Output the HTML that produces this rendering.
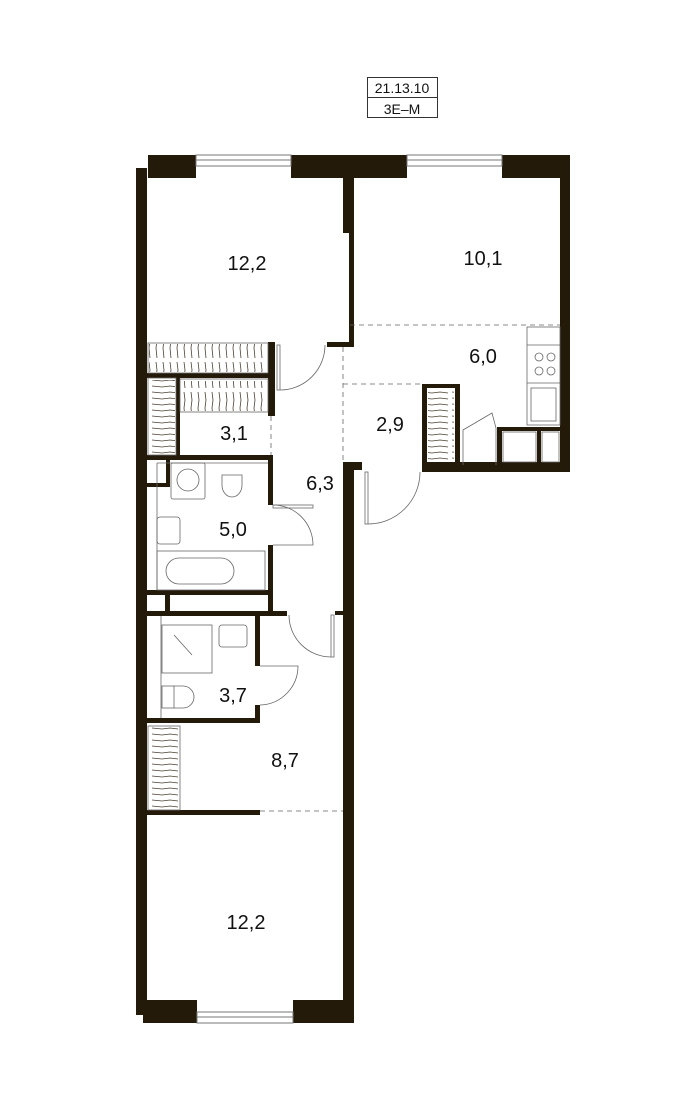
<!DOCTYPE html>
<html><head><meta charset="utf-8"><style>
html,body{margin:0;padding:0;background:#fff;width:700px;height:1100px;overflow:hidden}
svg{display:block}
text{font-family:"Liberation Sans",sans-serif;fill:#111}
</style></head><body>
<svg width="700" height="1100" viewBox="0 0 700 1100">
<defs>
<pattern id="hv" width="7" height="30" patternUnits="userSpaceOnUse"><path d="M2 2 L3 10 L2 18 L3 28" stroke="#4a4030" stroke-width="0.8" fill="none"/></pattern>
<pattern id="hh" width="30" height="6" patternUnits="userSpaceOnUse"><path d="M2 2 L12 3 L20 2 L28 3" stroke="#4a4030" stroke-width="0.8" fill="none"/></pattern>
</defs>
<rect x="367.5" y="77.5" width="70" height="40" fill="none" stroke="#333" stroke-width="1"/>
<line x1="367" y1="97.5" x2="437" y2="97.5" stroke="#333"/>
<text x="402" y="93" font-size="14" text-anchor="middle" font-family="Liberation Sans Narrow, Liberation Sans, sans-serif">21.13.10</text>
<text x="402" y="114" font-size="14" text-anchor="middle" font-family="Liberation Sans Narrow, Liberation Sans, sans-serif">3E–M</text>
<g fill="#231a0a">
<rect x="148" y="155" width="48" height="23"/>
<rect x="291" y="155" width="116" height="23"/>
<rect x="502" y="155" width="68" height="23"/>
<rect x="136" y="168" width="11" height="847"/>
<rect x="560" y="168" width="10" height="304"/>
<rect x="343" y="168" width="11" height="65"/>
<rect x="349" y="230" width="5" height="117"/>
<rect x="327" y="342" width="27" height="5"/>
<rect x="268" y="342" width="7" height="74"/>
<rect x="147" y="373" width="125" height="5"/>
<rect x="176" y="378" width="4" height="80"/>
<rect x="147" y="455" width="126" height="5"/>
<rect x="268" y="455" width="5" height="50"/>
<rect x="268" y="545" width="5" height="68"/>
<rect x="147" y="483" width="23" height="4"/>
<rect x="166" y="460" width="4" height="27"/>
<rect x="147" y="590" width="126" height="5"/>
<rect x="165" y="595" width="5" height="18"/>
<rect x="147" y="611" width="140" height="5"/>
<rect x="255" y="611" width="5" height="55"/>
<rect x="255" y="705" width="5" height="18"/>
<rect x="147" y="718" width="113" height="5"/>
<rect x="335" y="611" width="10" height="4"/>
<rect x="343" y="462" width="11" height="560"/>
<rect x="343" y="462" width="19" height="8"/>
<rect x="422" y="384" width="38" height="4"/>
<rect x="422" y="384" width="5" height="88"/>
<rect x="455" y="384" width="5" height="88"/>
<rect x="422" y="462" width="148" height="10"/>
<rect x="497" y="427" width="63" height="4"/>
<rect x="497" y="427" width="5" height="40"/>
<rect x="537" y="427" width="4" height="40"/>
<rect x="147" y="810" width="113" height="5"/>
<rect x="143" y="1000" width="54" height="23"/>
<rect x="293" y="1000" width="61" height="23"/>
</g>
<g fill="none" stroke="#777" stroke-width="1">
<rect x="196" y="155" width="95" height="11"/>
<line x1="196" y1="160" x2="291" y2="160"/>
<rect x="407" y="155" width="95" height="11"/>
<line x1="407" y1="160" x2="502" y2="160"/>
<rect x="197" y="1012" width="96" height="11"/>
<line x1="197" y1="1017" x2="293" y2="1017"/>
</g>
<rect x="149" y="344" width="118" height="28" fill="url(#hv)"/>
<rect x="182" y="381" width="85" height="30" fill="url(#hv)"/>
<rect x="150" y="380" width="25" height="74" fill="url(#hh)"/>
<rect x="428" y="390" width="26" height="70" fill="url(#hh)"/>
<rect x="150" y="727" width="28" height="82" fill="url(#hh)"/>
<g fill="none" stroke="#666" stroke-width="0.8">
<rect x="148" y="343" width="120" height="30"/>
<rect x="180" y="379" width="88" height="33"/>
<rect x="148" y="378" width="28" height="77"/>
<rect x="148" y="726" width="32" height="84"/>
<line x1="350" y1="325" x2="560" y2="325" stroke-dasharray="5,4"/>
<line x1="343" y1="384" x2="422" y2="384" stroke-dasharray="5,4"/>
<line x1="343" y1="347" x2="343" y2="462" stroke-dasharray="5,4"/>
<line x1="271" y1="416" x2="271" y2="455" stroke-dasharray="5,4"/>
<line x1="260" y1="811" x2="343" y2="811" stroke-dasharray="5,4"/>
<rect x="277" y="345" width="3" height="45"/>
<path d="M280 390 A45 45 0 0 0 325 345"/>
<rect x="273" y="505" width="40" height="3"/>
<path d="M273 545 L313 545 A40 40 0 0 0 273 505"/>
<rect x="365" y="472" width="3" height="52"/>
<path d="M368 524 A52 52 0 0 0 420 472"/>
<rect x="331" y="615" width="3" height="42"/>
<path d="M331 657 A42 42 0 0 1 289 615"/>
<path d="M260 666 L298 666 A39 39 0 0 1 260 705"/>
<rect x="527" y="327" width="33" height="98"/>
<line x1="527" y1="345" x2="560" y2="345"/>
<line x1="527" y1="383" x2="560" y2="383"/>
<circle cx="539" cy="357" r="4"/><circle cx="551" cy="357" r="4"/>
<circle cx="539" cy="371" r="4"/><circle cx="551" cy="371" r="4"/>
<rect x="531" y="388" width="25" height="33"/>
<path d="M463 465 L463 430 L492 413 L496 428 L496 465"/>
<rect x="503" y="432" width="33" height="30"/>
<rect x="542" y="432" width="17" height="30"/>
<rect x="171" y="463" width="34" height="36" rx="2"/>
<circle cx="188" cy="480" r="11"/>
<path d="M222 475 L242 475 L242 485 A10 12 0 0 1 222 485 Z"/>
<rect x="157" y="517" width="23" height="27" rx="3"/>
<rect x="157" y="551" width="108" height="39"/>
<rect x="166" y="558" width="68" height="26" rx="13"/>
<rect x="162" y="625" width="50" height="48"/>
<line x1="174" y1="635" x2="192" y2="655"/>
<rect x="219" y="625" width="28" height="22" rx="3"/>
<rect x="162" y="686" width="12" height="22"/>
<path d="M174 686 L183 686 A11 11 0 0 1 183 708 L174 708"/>
<line x1="157" y1="463" x2="268" y2="463"/>
<line x1="157" y1="463" x2="157" y2="590"/>
<line x1="161" y1="616" x2="161" y2="718"/>
</g>
<g font-size="20" text-anchor="middle">
<text x="247" y="270">12,2</text>
<text x="483" y="265">10,1</text>
<text x="483" y="363">6,0</text>
<text x="390" y="431">2,9</text>
<text x="234" y="440">3,1</text>
<text x="320" y="490">6,3</text>
<text x="233" y="536">5,0</text>
<text x="233" y="702">3,7</text>
<text x="285" y="767">8,7</text>
<text x="246" y="929">12,2</text>
</g>
</svg>
</body></html>
